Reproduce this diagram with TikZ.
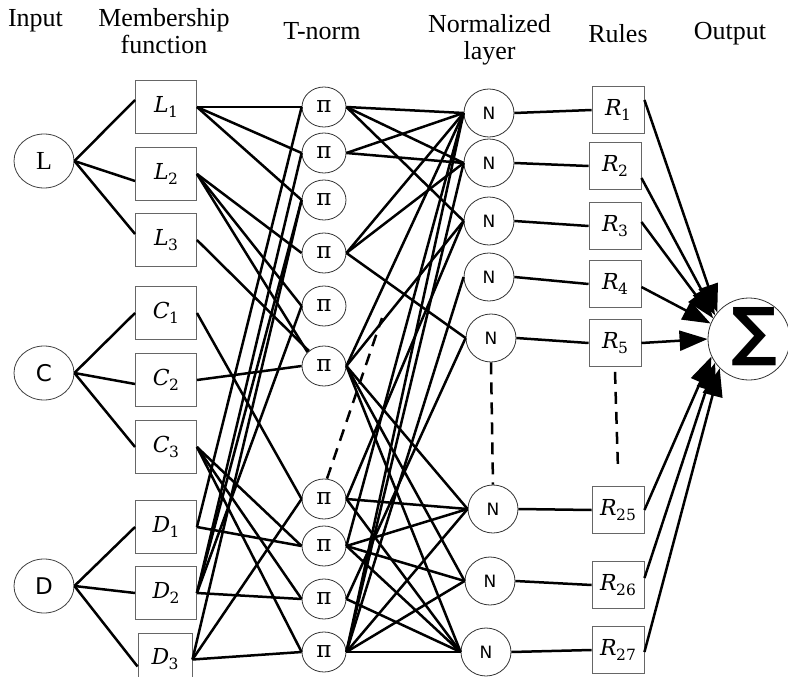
\documentclass[tikz,border=0pt]{standalone}
\usepackage{fontspec}
\setmainfont{Liberation Serif}
\newfontfamily\dejavu{DejaVu Sans}
\newfontfamily\dvserif{DejaVu Serif}
\usetikzlibrary{arrows.meta,shapes.geometric}
\newcommand{\mlab}[2]{{\dvserif\fontsize{22}{22}\selectfont\itshape #1}\kern-0.5pt\raisebox{-5pt}{\dvserif\fontsize{15.5}{15.5}\selectfont #2}}
\begin{document}
\begin{tikzpicture}[x=1pt,y=-1pt,
  hdr/.style={font=\fontsize{26}{27}\selectfont, anchor=base, inner sep=0pt},
  inp/.style={ellipse, draw=black!75, line width=0.8pt, minimum width=60pt, minimum height=54pt, inner sep=0pt},
  mf/.style={rectangle, draw=black!60, line width=0.9pt, minimum width=61pt, minimum height=53pt, inner sep=0pt},
  pin/.style={ellipse, draw=black!80, line width=0.8pt, minimum width=44pt, minimum height=40pt, inner sep=0pt, font=\dvserif\fontsize{23}{23}\selectfont},
  nn/.style={ellipse, draw=black!80, line width=0.8pt, minimum width=50pt, minimum height=48pt, inner sep=0pt, font=\dejavu\fontsize{17}{17}\selectfont},
  rb/.style={rectangle, draw=black!60, line width=0.9pt, minimum width=52pt, minimum height=47pt, inner sep=0pt},
  con/.style={line width=2.5pt},
  arr/.style={line width=2.5pt, -{Triangle[length=28pt,width=20pt]}},
  dsh/.style={line width=2.5pt, dash pattern=on 12pt off 8pt}
]
\useasboundingbox (0,0) rectangle (788,677);
\clip (0,0) rectangle (788,677);

% headers
\node[hdr] (hin) at (35.5,27) {Input};
\node[hdr] (hmf1) at (164,27) {Membership};
\node[hdr] (hmf2) at (164,54) {function};
\node[hdr] (htn) at (322,40) {T-norm};
\node[hdr] (hnl1) at (489.5,33) {Normalized};
\node[hdr] (hnl2) at (489.5,60) {layer};
\node[hdr] (hru) at (618,43) {Rules};
\node[hdr] (hout) at (730,40) {Output};

% inputs
\node[inp, font=\fontsize{26}{26}\selectfont] (L) at (44,161) {L};
\node[inp, font=\dejavu\fontsize{23}{23}\selectfont] (C) at (44,373) {C};
\node[inp, font=\dejavu\fontsize{23}{23}\selectfont] (D) at (44,586) {D};

% membership functions
\node[mf] (L1) at (166,107) {\mlab{L}{1}};
\node[mf] (L2) at (166,174) {\mlab{L}{2}};
\node[mf] (L3) at (166,240) {\mlab{L}{3}};
\node[mf] (C1) at (166,313) {\mlab{C}{1}};
\node[mf] (C2) at (166,380) {\mlab{C}{2}};
\node[mf] (C3) at (166,447) {\mlab{C}{3}};
\node[mf] (D1) at (166,527) {\mlab{D}{1}};
\node[mf] (D2) at (166,593) {\mlab{D}{2}};
\node[mf, minimum width=54pt] (D3) at (165,659.5) {\mlab{D}{3}};

% T-norm nodes
\foreach \i/\y in {1/107,2/153,3/200,4/253,5/306,6/366,7/499,8/546,9/599,10/652}
  \node[pin] (p\i) at (324,\y) {π};

% normalized nodes
\node[nn] (n1) at (489,113) {N};
\node[nn] (n2) at (489,163) {N};
\node[nn] (n3) at (489,221) {N};
\node[nn] (n4) at (489,277) {N};
\node[nn] (n5) at (491,338) {N};
\node[nn] (n6) at (493,509) {N};
\node[nn] (n7) at (490,581) {N};
\node[nn] (n8) at (486,652) {N};

% rules
\node[rb] (r1) at (618,110) {\mlab{R}{1}};
\node[rb] (r2) at (615,166) {\mlab{R}{2}};
\node[rb] (r3) at (615,226) {\mlab{R}{3}};
\node[rb] (r4) at (615,284) {\mlab{R}{4}};
\node[rb] (r5) at (615,343) {\mlab{R}{5}};
\node[rb] (r25) at (618,510) {\mlab{R}{25}};
\node[rb] (r26) at (618,585) {\mlab{R}{26}};
\node[rb] (r27) at (618,650) {\mlab{R}{27}};

% output
\node[circle, draw=black!80, line width=0.8pt, minimum size=82pt, inner sep=0pt] (sig) at (749,339) {};
\node[font=\dejavu\bfseries\fontsize{64}{64}\selectfont, inner sep=0pt] (sigt) at (754,337) {∑};

% input -> MF
\draw[con] (L.east) -- ([yshift=7pt]L1.west);
\draw[con] (L.east) -- ([yshift=-7pt]L2.west);
\draw[con] (L.east) -- ([yshift=6pt]L3.west);
\draw[con] (C.east) -- (C1.west);
\draw[con] (C.east) -- ([yshift=-4pt]C2.west);
\draw[con] (C.east) -- (C3.west);
\draw[con] (D.east) -- (D1.west);
\draw[con] (D.east) -- (D2.west);
\draw[con] (D.east) -- ([yshift=-7pt]D3.west);

% MF -> T-norm
\foreach \a/\b in {L1/p1,L1/p2,L1/p3,L2/p4,L2/p5,C1/p7,C2/p6,C3/p8,C3/p9,C3/p10,
                   D1/p1,D1/p8,D2/p2,D2/p3,D2/p5,D2/p9,D3/p3,D3/p7,D3/p10}
  \draw[con] (\a.east) -- (\b.west);
\draw[con] (L2.east) -- (p6.140);
\draw[con] (L3.east) -- (p6.135);

% T-norm -> normalized
\foreach \a/\b in {p1/n1,p1/n2,p1/n3,p2/n1,p2/n2,p4/n1,p4/n2,p4/n5,
                   p6/n1,p6/n3,p6/n6,p6/n7,p6/n8,p7/n3,p7/n6,p7/n8,
                   p8/n1,p8/n6,p8/n7,p8/n8,p9/n5,p9/n8,
                   p10/n1,p10/n2,p10/n4,p10/n6,p10/n7,p10/n8}
  \draw[con] (\a.east) -- (\b.west);

% normalized -> rules
\foreach \i in {1,2,3,4,5}
  \draw[con] (n\i.east) -- (r\i.west);
\draw[con] (n6.east) -- (r25.west);
\draw[con] (n7.east) -- (r26.west);
\draw[con] (n8.east) -- (r27.west);

% rules -> output
\draw[arr] ([yshift=10pt]r1.east) -- (sig.140);
\draw[arr] ([yshift=-12pt]r2.east) -- (sig.145);
\draw[arr] ([yshift=4pt]r3.east) -- (sig.150);
\draw[arr] ([yshift=-3pt]r4.east) -- (sig.158);
\draw[arr] (r5.east) -- (sig.180);
\draw[arr] (r25.east) -- (sig.205);
\draw[arr] ([yshift=7pt]r26.east) -- (sig.215);
\draw[arr] ([yshift=-2pt]r27.east) -- (sig.225);

% dashed continuation marks
\coordinate (dtop) at (382,318);
\draw[dsh] ([xshift=3pt]p7.north) -- (dtop);
\draw[dsh] (n5.south) -- (n6.north);
\draw[dsh] ([yshift=-5pt]r5.south) -- ([yshift=17pt]r25.north);
\end{tikzpicture}
\end{document}
